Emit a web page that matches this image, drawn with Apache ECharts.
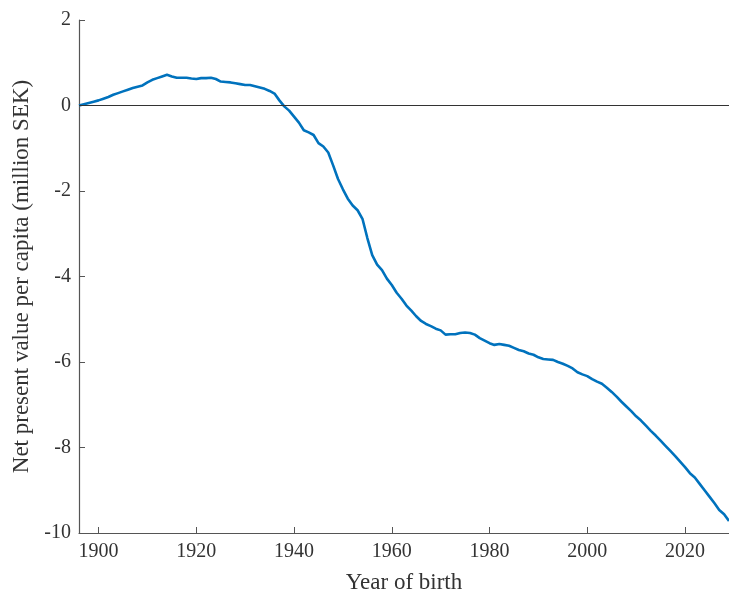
<!DOCTYPE html>
<html>
<head>
<meta charset="utf-8">
<script src="https://cdn.jsdelivr.net/npm/echarts@6/dist/echarts.min.js"></script>
<style>html,body{margin:0;padding:0;background:#fff}#c{width:729px;height:599px}</style>
</head>
<body>
<div id="c"></div>
<script>
const years = [];
for (let y = 1896; y <= 2029; y++) years.push(y);
const npv = [
 0.00, 0.03, 0.06, 0.09, 0.12, 0.16, 0.20, 0.25, 0.29, 0.33,
 0.37, 0.41, 0.44, 0.47, 0.54, 0.60, 0.64, 0.68, 0.72, 0.68,
 0.65, 0.65, 0.65, 0.63, 0.62, 0.64, 0.64, 0.65, 0.62, 0.56,
 0.55, 0.54, 0.52, 0.50, 0.48, 0.48, 0.45, 0.42, 0.39, 0.34,
 0.28, 0.12, -0.02, -0.12, -0.26, -0.40, -0.58, -0.63, -0.69, -0.88,
 -0.96, -1.10, -1.40, -1.72, -1.96, -2.18, -2.34, -2.45, -2.65, -3.10,
 -3.50, -3.72, -3.85, -4.05, -4.20, -4.38, -4.52, -4.68, -4.80, -4.93,
 -5.04, -5.11, -5.16, -5.22, -5.26, -5.36, -5.35, -5.35, -5.32, -5.31,
 -5.32, -5.36, -5.44, -5.50, -5.56, -5.60, -5.58, -5.60, -5.62, -5.67,
 -5.72, -5.75, -5.80, -5.83, -5.89, -5.93, -5.94, -5.95, -6.00, -6.04,
 -6.09, -6.15, -6.24, -6.29, -6.33, -6.40, -6.46, -6.51, -6.60, -6.70,
 -6.81, -6.93, -7.04, -7.15, -7.27, -7.37, -7.49, -7.61, -7.72, -7.84,
 -7.96, -8.08, -8.20, -8.33, -8.46, -8.60, -8.70, -8.85, -9.00, -9.15,
 -9.30, -9.46, -9.56, -9.72
];
const xTicks = [1900, 1920, 1940, 1960, 1980, 2000, 2020];
const xLabel = 'Year of birth';
const yLabel = 'Net present value per capita (million SEK)';

const font = '"Liberation Serif", "DejaVu Serif", serif';
const axisColor = '#555555';
const chart = echarts.init(document.getElementById('c'));
chart.setOption({
  animation: false,
  backgroundColor: '#ffffff',
  grid: { left: 79, right: 0, top: 20, bottom: 61 },
  xAxis: {
    type: 'value', min: 1896, max: 2029,
    name: xLabel, nameLocation: 'middle', nameGap: 38,
    nameTextStyle: { fontFamily: font, fontSize: 23, color: '#333' },
    axisLine: { show: true, onZero: false, lineStyle: { color: axisColor, width: 1.2 } },
    axisTick: { show: true, inside: true, length: 6, customValues: xTicks, lineStyle: { color: axisColor } },
    axisLabel: { customValues: xTicks, formatter: v => String(v), fontFamily: font, fontSize: 20, color: '#333', margin: 9 },
    splitLine: { show: false }
  },
  yAxis: {
    type: 'value', min: -10, max: 2, interval: 2,
    name: yLabel, nameLocation: 'middle', nameGap: 45, nameRotate: 90,
    nameTextStyle: { fontFamily: font, fontSize: 23, color: '#333' },
    axisLine: { show: true, lineStyle: { color: axisColor, width: 1.2 } },
    axisTick: { show: true, inside: true, length: 6, lineStyle: { color: axisColor } },
    axisLabel: { fontFamily: font, fontSize: 20, color: '#333', margin: 8 },
    splitLine: { show: false }
  },
  series: [{
    type: 'line',
    data: years.map((y, i) => [y, npv[i]]),
    showSymbol: false,
    smooth: false,
    clip: true,
    lineStyle: { color: '#0072BD', width: 2.6 },
    markLine: {
      silent: true, symbol: ['none', 'none'], label: { show: false },
      lineStyle: { color: '#333333', width: 1, type: 'solid' },
      data: [{ yAxis: 0 }]
    },
    z: 3
  }]
});
</script>
</body>
</html>
